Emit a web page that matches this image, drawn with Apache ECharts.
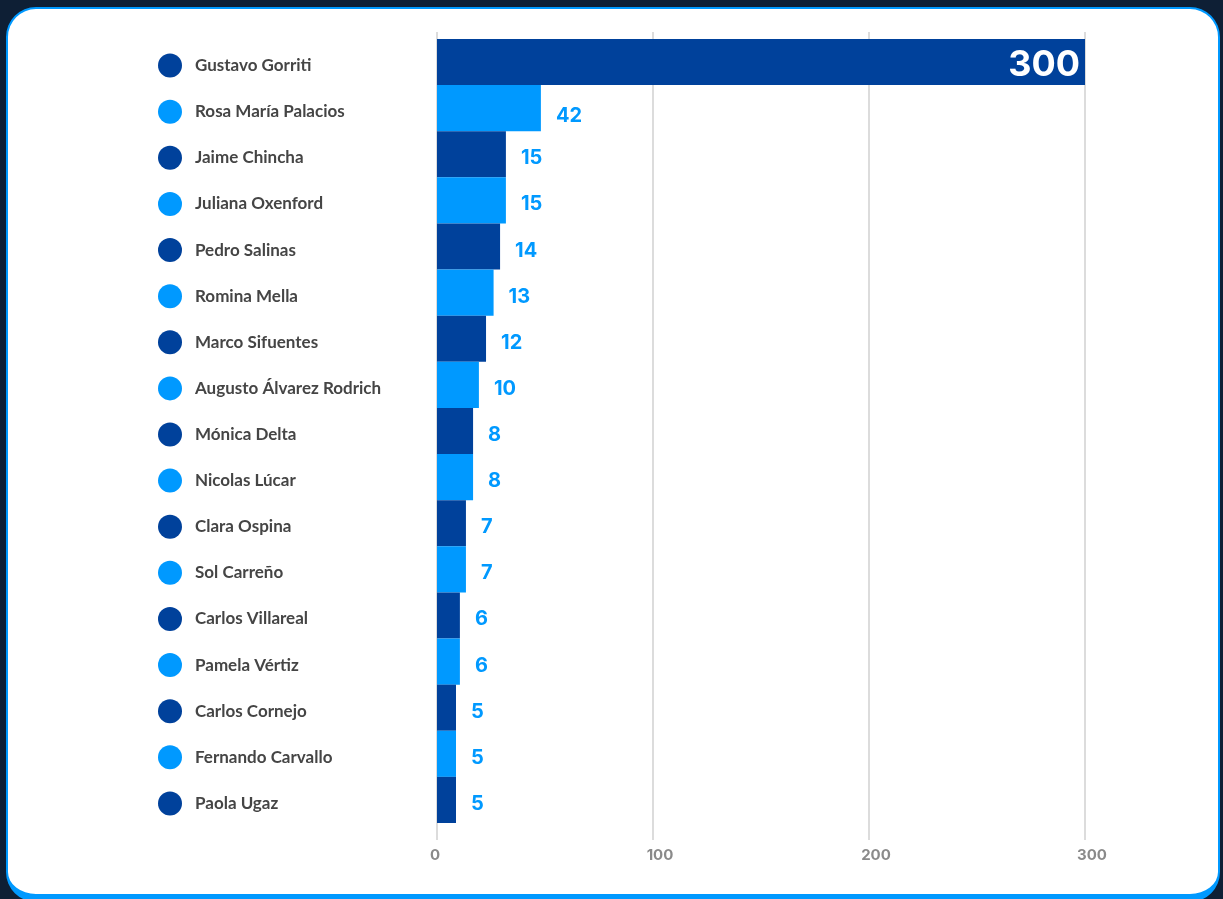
<!DOCTYPE html>
<html>
<head>
<meta charset="utf-8">
<script src="https://cdn.jsdelivr.net/npm/echarts@6/dist/echarts.min.js"></script>
<style>
  html, body { margin: 0; padding: 0; background: #0e1f35; overflow: hidden; }
  #panel {
    position: absolute; left: 6px; top: 7px; width: 1210px; height: 885px;
    background: #fff; border: 2px solid #0099ff; border-bottom-width: 8px;
    border-radius: 30px;
  }
  #chart { position: absolute; left: 0; top: 0; width: 1223px; height: 899px; }
</style>
</head>
<body>
<div id="panel"></div>
<div id="chart"></div>
<script>
var names = ['Gustavo Gorriti', 'Rosa María Palacios', 'Jaime Chincha', 'Juliana Oxenford',
    'Pedro Salinas', 'Romina Mella', 'Marco Sifuentes', 'Augusto Álvarez Rodrich',
    'Mónica Delta', 'Nicolas Lúcar', 'Clara Ospina', 'Sol Carreño', 'Carlos Villareal',
    'Pamela Vértiz', 'Carlos Cornejo', 'Fernando Carvallo', 'Paola Ugaz'];
// valores mostrados en las etiquetas
var shownValues = [300, 42, 15, 15, 14, 13, 12, 10, 8, 8, 7, 7, 6, 6, 5, 5, 5];
// largo de las barras leído sobre el eje
var barLengths = [300, 48.1, 31.9, 31.9, 29.2, 26.2, 22.7, 19.4, 16.7, 16.7, 13.4, 13.4, 10.6, 10.6, 8.8, 8.8, 8.8];
var xTicks = [0, 100, 200, 300];

var darkBlue = '#00419b';
var lightBlue = '#0099ff';

var mychart = echarts.init(document.getElementById('chart'));

var option = {
    animation: false,
    grid: [
        { left: 437, right: 138, top: 39, bottom: 76 },   // barras
        { left: 437, right: 138, top: 32, bottom: 59 }    // líneas guía
    ],
    xAxis: [{
        gridIndex: 0, type: 'value', min: 0, max: 300, interval: 100,
        axisLine: { show: false }, axisTick: { show: false },
        axisLabel: { show: false }, splitLine: { show: false }
    }, {
        gridIndex: 1, type: 'value', min: xTicks[0], max: xTicks[xTicks.length - 1], interval: 100,
        axisLine: { show: false }, axisTick: { show: false },
        axisLabel: {
            margin: 8,
            formatter: function (v) {
                return v === 0 ? '{z|' + v + '}' : '{n|' + v + '}';
            },
            rich: {
                z: { color: '#8a8a8a', fontFamily: 'Inter', fontWeight: 'bold', fontSize: 15, padding: [0, 4, 0, 0] },
                n: { color: '#8a8a8a', fontFamily: 'Inter', fontWeight: 'bold', fontSize: 15, padding: [0, 0, 0, 14] }
            }
        },
        splitLine: { lineStyle: { color: '#d0d0d0', width: 1.5 } }
    }],
    yAxis: [{
        gridIndex: 0, type: 'category', data: names, inverse: true,
        axisLine: { show: false }, axisTick: { show: false },
        axisLabel: {
            align: 'left', margin: 279, padding: [7, 0, 0, 0],
            formatter: function (v, i) {
                return (i % 2 === 0 ? '{dotA|}' : '{dotB|}') + '{name|' + v + '}';
            },
            rich: {
                dotA: { width: 24, height: 24, borderRadius: 12, backgroundColor: darkBlue },
                dotB: { width: 24, height: 24, borderRadius: 12, backgroundColor: lightBlue },
                name: {
                    padding: [0, 0, 0, 13], color: '#454545', fontFamily: 'Lato',
                    fontWeight: 'bold', fontSize: 17
                }
            }
        }
    }, {
        gridIndex: 1, type: 'category', data: [''], show: false
    }],
    series: [{
        type: 'bar',
        xAxisIndex: 0, yAxisIndex: 0,
        barCategoryGap: 0,
        data: barLengths.map(function (v, i) {
            var item = {
                value: v,
                itemStyle: { color: i % 2 === 0 ? darkBlue : lightBlue }
            };
            if (i === 0) {
                item.label = {
                    position: 'insideRight', distance: 5, color: '#fff', fontSize: 36, offset: [0, 3]
                };
            } else if (i === 1) {
                item.label = { offset: [0, 8] };
            }
            return item;
        }),
        label: {
            show: true, position: 'right', distance: 15, offset: [0, 4],
            color: lightBlue, fontFamily: 'Inter', fontWeight: 'bold', fontSize: 20,
            formatter: function (p) { return shownValues[p.dataIndex]; }
        }
    }]
};
mychart.setOption(option);
</script>
</body>
</html>
